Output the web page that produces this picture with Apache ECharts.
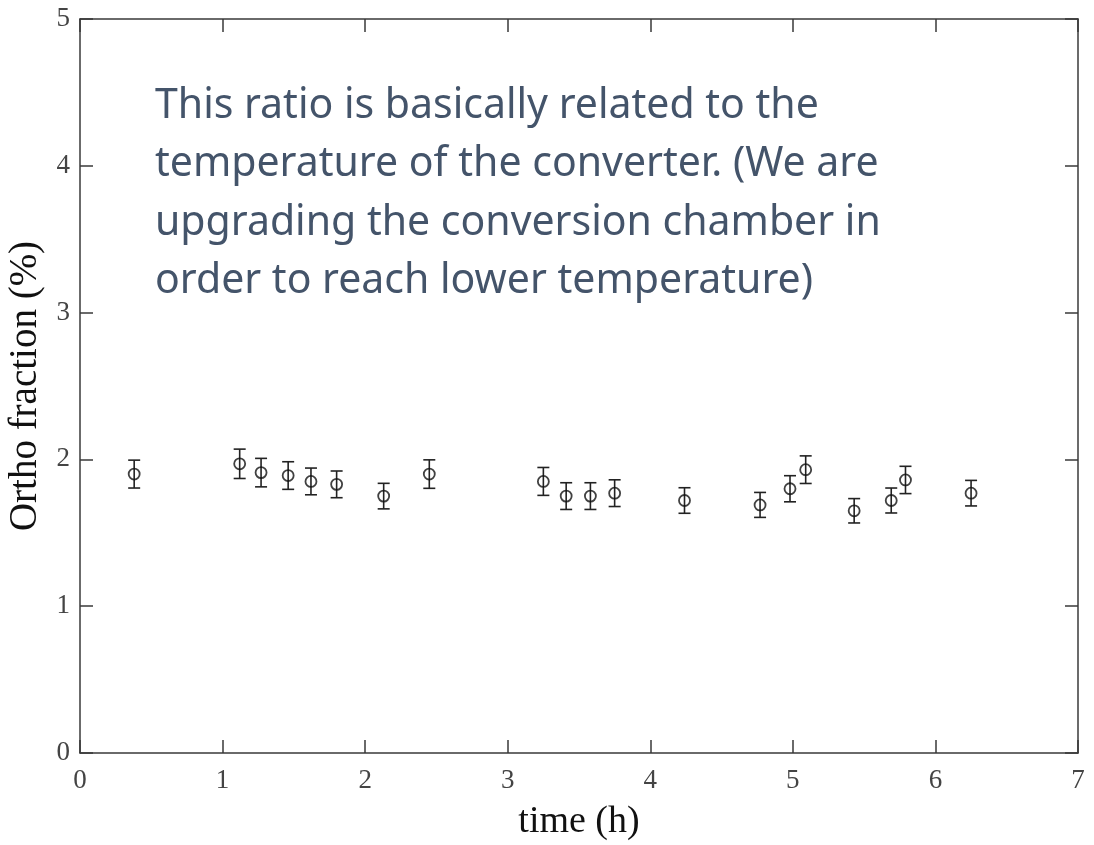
<!DOCTYPE html>
<html>
<head>
<meta charset="utf-8">
<title>Ortho fraction</title>
<script src="https://cdn.jsdelivr.net/npm/echarts@6/dist/echarts.min.js"></script>
<style>
	html, body { margin: 0; padding: 0; background: #fff; }
	#chart { width: 1094px; height: 845px; }
</style>
</head>
<body>
<div id="chart"></div>
<script>
// 数据
let timeH = [0.38, 1.12, 1.27, 1.46, 1.62, 1.80, 2.13, 2.45, 3.25, 3.41, 3.58, 3.75, 4.24, 4.77, 4.98, 5.09, 5.43, 5.69, 5.79, 6.25];
let ortho = [1.90, 1.97, 1.91, 1.89, 1.85, 1.83, 1.75, 1.90, 1.85, 1.75, 1.75, 1.77, 1.72, 1.69, 1.80, 1.93, 1.65, 1.72, 1.86, 1.77];
let orthoErr = [0.095, 0.100, 0.097, 0.094, 0.091, 0.091, 0.087, 0.097, 0.095, 0.091, 0.091, 0.091, 0.087, 0.085, 0.089, 0.094, 0.083, 0.085, 0.093, 0.087];
let xTicks = [0, 1, 2, 3, 4, 5, 6, 7];
let yTicks = [0, 1, 2, 3, 4, 5];
let noteLines = [
	"This ratio is basically related to the",
	"temperature of the converter. (We are",
	"upgrading the conversion chamber in",
	"order to reach lower temperature)"
];

let axisColor = "#3a3a3a";
let serif = "Liberation Serif";

let points = [];
let bars = [];
for (var i = 0; i < timeH.length; i++) {
	points.push([timeH[i], ortho[i]]);
	bars.push([timeH[i], ortho[i] - orthoErr[i], ortho[i] + orthoErr[i]]);
}

var myChart = echarts.init(document.getElementById('chart'));

// 坐标轴公共样式
function baseAxis(ticks) {
	return {
		type: 'value',
		min: ticks[0],
		max: ticks[ticks.length - 1],
		interval: 1,
		splitLine: { show: false },
		axisLine: { show: true, onZero: false, lineStyle: { color: axisColor, width: 1.5 } },
		axisTick: { show: true, inside: true, length: 13, lineStyle: { color: axisColor, width: 1.5 } }
	};
}

let xMain = Object.assign(baseAxis(xTicks), {
	position: 'bottom',
	name: 'time (h)',
	nameLocation: 'middle',
	nameGap: 50,
	nameTextStyle: { fontFamily: serif, fontSize: 38, color: '#111' },
	axisLabel: { fontFamily: serif, fontSize: 27, color: '#444', margin: 14 }
});
let xTop = Object.assign(baseAxis(xTicks), { position: 'top', axisLabel: { show: false } });

let yMain = Object.assign(baseAxis(yTicks), {
	position: 'left',
	name: 'Ortho fraction (%)',
	nameLocation: 'middle',
	nameGap: 32,
	nameTextStyle: { fontFamily: serif, fontSize: 39, color: '#111' },
	axisLabel: { fontFamily: serif, fontSize: 27, color: '#444', margin: 10 }
});
let yRight = Object.assign(baseAxis(yTicks), { position: 'right', axisLabel: { show: false } });

var options = {
	animation: false,
	grid: { left: 80, right: 16, top: 19, bottom: 92, outerBoundsMode: 'none' },
	xAxis: [xMain, xTop],
	yAxis: [yMain, yRight],
	graphic: [{
		type: 'text',
		left: 155,
		top: 77,
		style: {
			text: noteLines.join('\n'),
			fill: '#44546A',
			fontFamily: 'Noto Sans',
			fontSize: 41,
			lineHeight: 58.5
		}
	}],
	series: [
		{
			// 误差棒
			type: 'custom',
			data: bars,
			renderItem: function(params, api) {
				let x = api.coord([api.value(0), api.value(1)])[0];
				let lo = api.coord([api.value(0), api.value(1)])[1];
				let hi = api.coord([api.value(0), api.value(2)])[1];
				let cap = 6;
				let st = { stroke: '#222', lineWidth: 1.6 };
				return {
					type: 'group',
					children: [
						{ type: 'line', shape: { x1: x, y1: lo, x2: x, y2: hi }, style: st },
						{ type: 'line', shape: { x1: x - cap, y1: lo, x2: x + cap, y2: lo }, style: st },
						{ type: 'line', shape: { x1: x - cap, y1: hi, x2: x + cap, y2: hi }, style: st }
					]
				};
			},
			z: 2
		},
		{
			type: 'scatter',
			data: points,
			symbol: 'circle',
			symbolSize: 11,
			itemStyle: { color: 'rgba(0,0,0,0)', borderColor: '#111', borderWidth: 1.8 },
			z: 3
		}
	]
};
myChart.setOption(options);
</script>
</body>
</html>
